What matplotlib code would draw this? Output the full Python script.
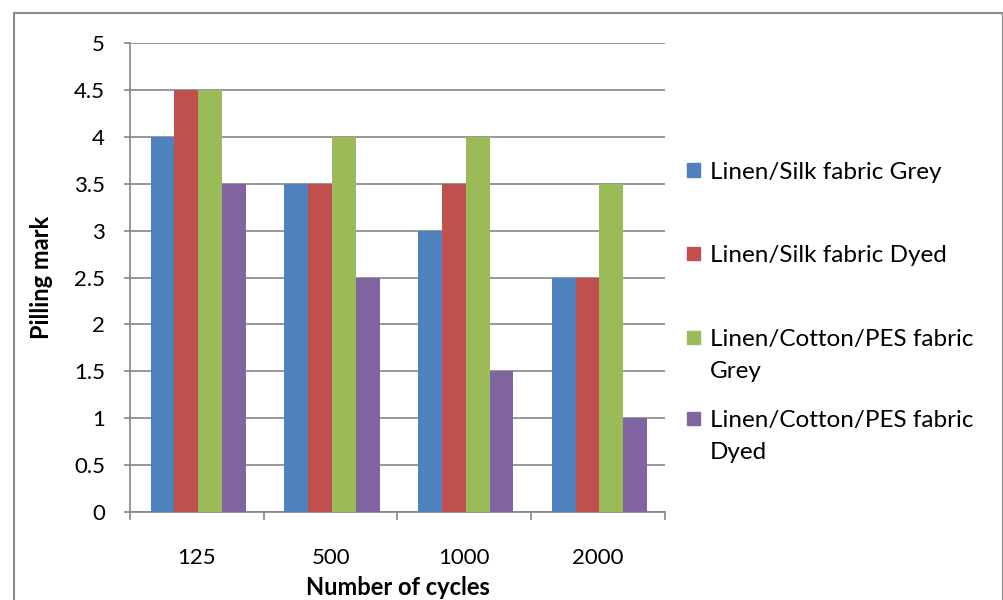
import matplotlib
matplotlib.use("Agg")
import matplotlib.pyplot as plt
from matplotlib.patches import Rectangle
import numpy as np

plt.rcParams['font.family'] = ['Lato', 'DejaVu Sans']

categories = ["125", "500", "1000", "2000"]
series_names = ["Linen/Silk fabric Grey", "Linen/Silk fabric Dyed",
                "Linen/Cotton/PES fabric\nGrey", "Linen/Cotton/PES fabric\nDyed"]
silk_grey = [4.0, 3.5, 3.0, 2.5]
silk_dyed = [4.5, 3.5, 3.5, 2.5]
cotton_grey = [4.5, 4.0, 4.0, 3.5]
cotton_dyed = [3.5, 2.5, 1.5, 1.0]
series = [silk_grey, silk_dyed, cotton_grey, cotton_dyed]
colors = ["#4F81BD", "#C0504D", "#9BBB59", "#8064A2"]
yticks = [0, 0.5, 1, 1.5, 2, 2.5, 3, 3.5, 4, 4.5, 5]

fig = plt.figure(figsize=(10.04, 6.0), dpi=100)
ax = fig.add_axes([130/1004, 88/600, 535/1004, 469/600])

x = np.arange(len(categories))
bw = 0.178
for i, (vals, c) in enumerate(zip(series, colors)):
    ax.bar(x + (i - 1.5) * bw + 0.01, vals, width=bw, color=c, zorder=3, linewidth=0)

ax.set_xlim(-0.5, len(categories) - 0.5)
ax.set_ylim(0, 5)
ax.set_yticks(yticks)
ax.set_yticklabels([f"{t:g}" for t in yticks], fontsize=16)
ax.set_xticks(x)
ax.set_xticklabels(categories, fontsize=16)
ax.set_xticks(np.arange(len(categories) + 1) - 0.5, minor=True)
ax.tick_params(axis='x', which='major', length=0, pad=26)
ax.tick_params(axis='x', which='minor', length=5.8, color='#868686', width=1.2)
ax.tick_params(axis='y', length=4.5, color='#868686', width=1.2, pad=13.5)
ax.grid(axis='y', color='#868686', linewidth=1.2, zorder=0)
for s in ['top', 'right']:
    ax.spines[s].set_visible(False)
for s in ['left', 'bottom']:
    ax.spines[s].set_color('#868686')
    ax.spines[s].set_linewidth(1.2)
ax.set_ylabel("Pilling mark", fontsize=17, fontweight='bold', labelpad=15)
ax.set_xlabel("Number of cycles", fontsize=17, fontweight='bold', labelpad=5.5)

# legend drawn manually (marker aligned to first line)
leg_y = [170, 253, 337, 418]
for name, c, yy in zip(series_names, colors, leg_y):
    fig.patches.append(Rectangle((687/1004, 1 - (yy + 6.5)/600), 13/1004, 13/600,
                                 transform=fig.transFigure, color=c))
    fig.text(710/1004, 1 - (yy - 8)/600, name, fontsize=17.5, va='top', ha='left',
             linespacing=1.62)

# outer border
fig.patches.append(Rectangle((14/1004, -0.02), 989/1004, 1 - 13/600 + 0.02,
                             transform=fig.transFigure, fill=False,
                             edgecolor='#8c8c8c', linewidth=1.5))

fig.savefig("out.png", dpi=100)
